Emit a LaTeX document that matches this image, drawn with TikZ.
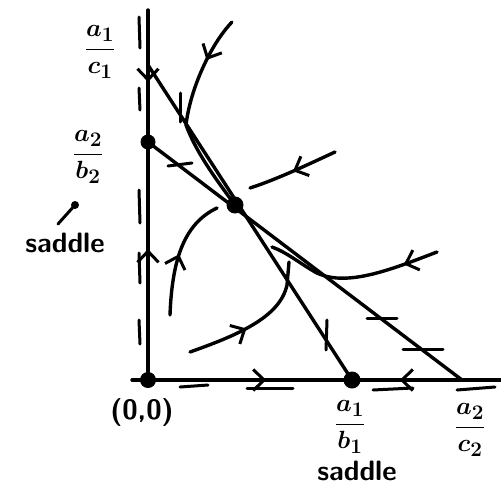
\documentclass[tikz,border=0pt]{standalone}
\usetikzlibrary{arrows.meta,decorations.markings}
\begin{document}
\begin{tikzpicture}[x=1pt,y=-1pt,
  ax/.style={line width=3.4pt,line cap=round},
  curve/.style={line width=3.4pt,line cap=round},
  tk/.style={line width=3pt,line cap=round},
  dotnode/.style={circle,fill=black,inner sep=0pt,minimum size=#1},
  arrowat/.style={postaction={decorate},decoration={markings,
     mark=at position #1 with {\arrow{Straight Barb[length=11pt,width=21pt,line width=3pt]}}}},
  lab/.style={font=\fontsize{30}{34}\selectfont\boldmath,inner sep=0pt},
  wlab/.style={font=\fontsize{28}{30}\selectfont\sffamily\bfseries,inner sep=0pt}]
\useasboundingbox (0,0) rectangle (501,488);
% equilibria and axis points
\node[dotnode=16pt] (O) at (148,380) {};
\node[dotnode=15pt] (P2) at (148,142) {};
\node[dotnode=17pt] (P1) at (352,380) {};
\node[dotnode=17pt] (E) at (235,205) {};
\coordinate (A1C1) at (148,65);
\coordinate (A2C2) at (462,380);
\coordinate (Ytop) at (148,10);
\coordinate (Xleft) at (132,380);
\coordinate (Xright) at (501,380);
% axes
\draw[ax] (Ytop) -- (A1C1);
\draw[ax,arrowat=0.22] (A1C1) -- (P2.center);
\draw[ax,arrowat=0.55] (O.center) -- (P2.center);
\draw[ax] (Xleft) -- (O.center);
\draw[ax,arrowat=0.58] (O.center) -- (P1.center);
\draw[ax,arrowat=0.68] (Xright) -- (P1.center);
% nullclines
\draw[ax] (A1C1) -- (P1.center);
\draw[ax] (P2.center) -- (A2C2);
% trajectories
\coordinate (t1s) at (232,22);
\draw[curve,arrowat=0.22] (t1s) .. controls (210,45) and (190,90) .. (186,125)
   .. controls (196,152) and (215,178) .. (E.center);
\coordinate (t2s) at (335,152);
\coordinate (t2e) at (250,188);
\draw[curve,arrowat=0.5] (t2s) .. controls (305,166) and (275,180) .. (t2e);
\coordinate (t3s) at (170,315);
\coordinate (t3e) at (217,208);
\draw[curve,arrowat=0.5] (t3s) .. controls (172,262) and (183,224) .. (t3e);
\coordinate (t4s) at (190,352);
\coordinate (t4e) at (289,262);
\draw[curve,arrowat=0.42] (t4s) .. controls (235,336) and (280,318) .. (287,285) -- (t4e);
\coordinate (t5s) at (437,252);
\coordinate (t5e) at (272,247);
\draw[curve,arrowat=0.2] (t5s) .. controls (390,270) and (345,288) .. (315,272)
   .. controls (298,262) and (286,252) .. (t5e);
% tick marks on y axis (left)
\foreach \a/\b in {17/48,88/110,190/223,253/283,320/344}
  \draw[tk] (139,\a) -- (140,\b);
% tick marks below x axis
\foreach \a/\b/\c/\d in {180/387/208/385,247/388/293/388,373/390/413/388,457/390/495/387}
  \draw[tk] (\a,\b) -- (\c,\d);
% vertical ticks on line a1/c1 -- a1/b1
\draw[tk] (180,93) -- (180,122);
\draw[tk] (327,320) -- (326,350);
% horizontal ticks on line a2/b2 -- a2/c2
\draw[tk] (168,166) -- (192,163);
\draw[tk] (367,318) -- (397,318);
\draw[tk] (403,349) -- (443,349);
% labels
\node[lab] (la1c1) at (100,52) {$\displaystyle\frac{a_1}{c_1}$};
\node[lab] (la2b2) at (88,157) {$\displaystyle\frac{a_2}{b_2}$};
\node[wlab] (ls1) at (65,243) {saddle};
\coordinate (pt1) at (58,224);
\coordinate (pt2) at (75,205);
\draw[tk] (pt1) -- (pt2);
\fill (pt2) circle (4pt);
\node[wlab] (l00) at (142,412) {(0,0)};
\node[lab] (la1b1) at (350,427) {$\displaystyle\frac{a_1}{b_1}$};
\node[wlab] (ls2) at (357,471) {saddle};
\node[lab] (la2c2) at (470,430) {$\displaystyle\frac{a_2}{c_2}$};
\end{tikzpicture}
\end{document}
